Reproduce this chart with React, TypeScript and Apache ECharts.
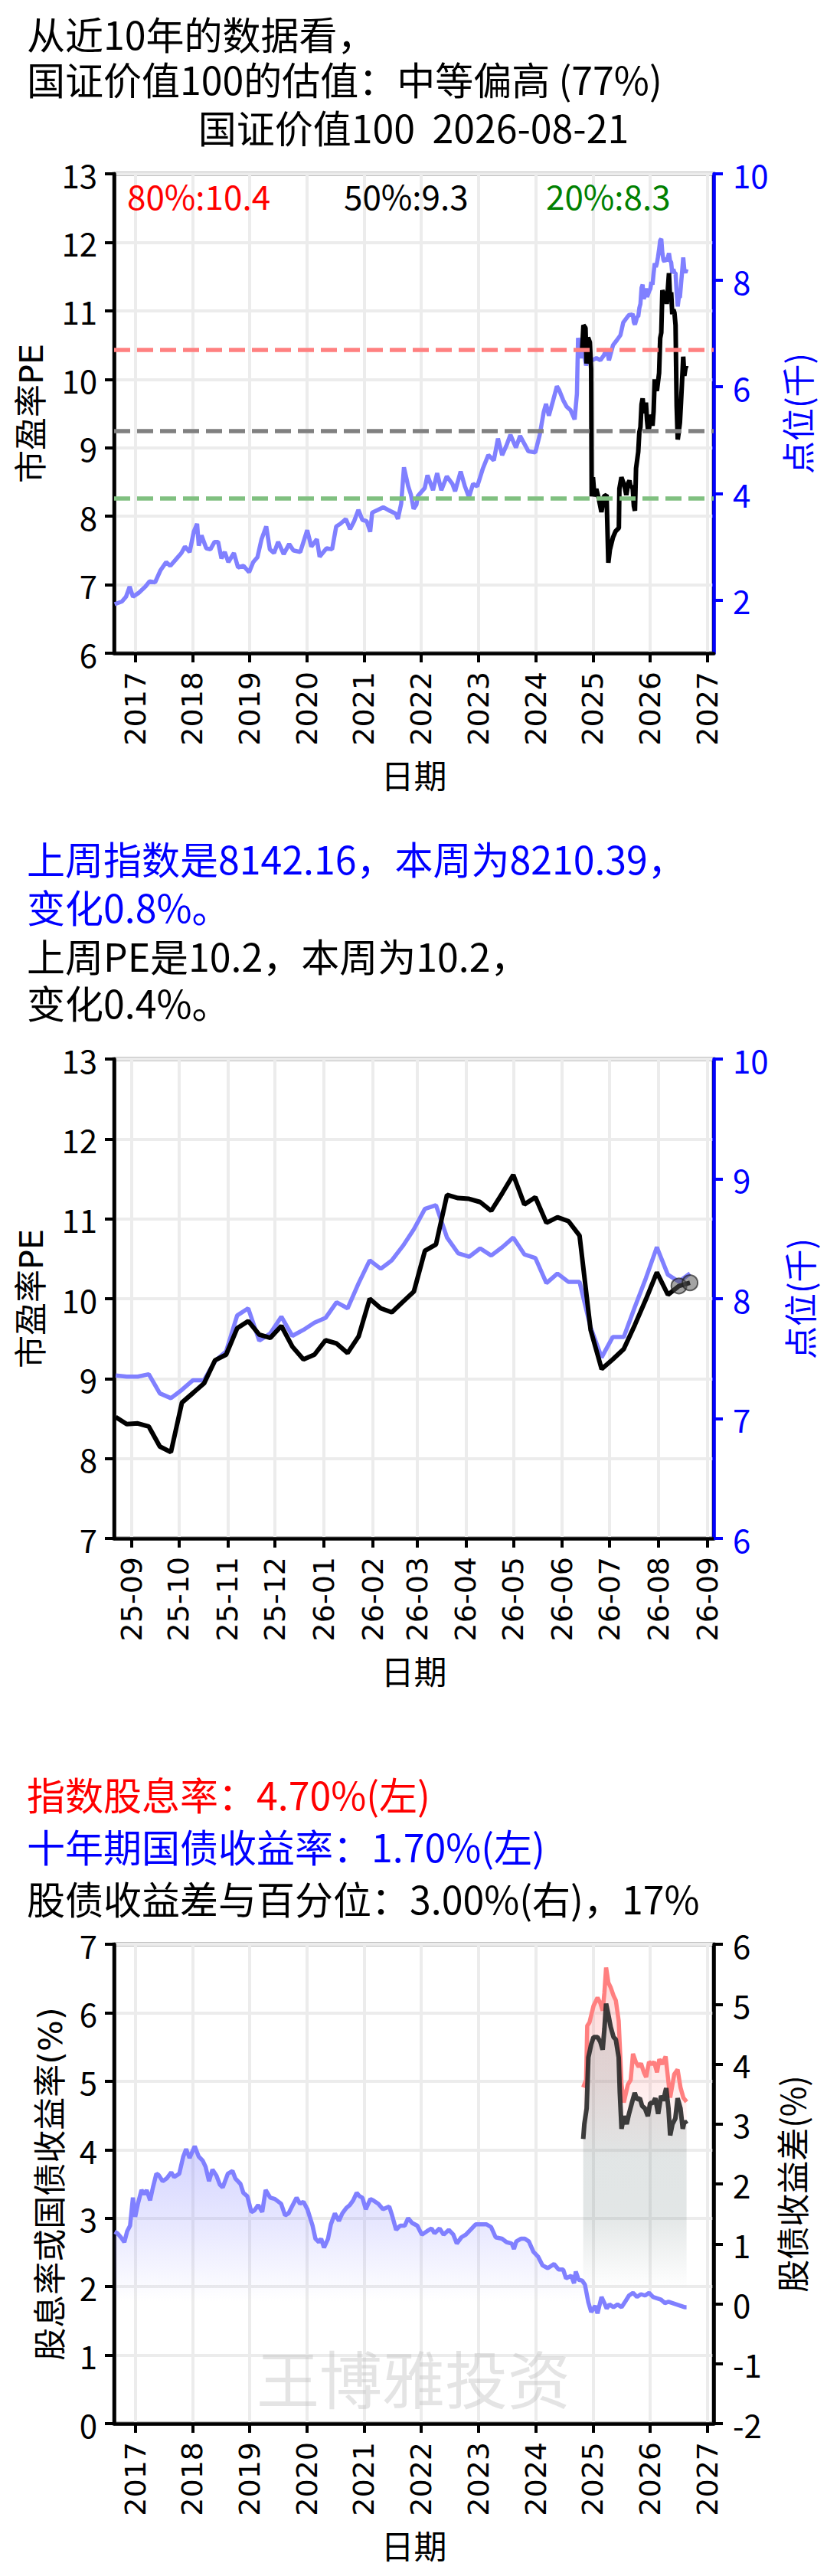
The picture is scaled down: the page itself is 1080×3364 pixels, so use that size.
import React, { useEffect, useRef } from "react";
import * as echarts from "echarts";

const CJK = "'Noto Sans CJK SC', 'Noto Sans', sans-serif";
const LATIN = "'DejaVu Sans', 'Noto Sans CJK SC', sans-serif";

// ---------------- Chart 1 : 10-year history (x in decimal years) ----------------
const X_YEAR_MIN = 2016.631;
const X_YEAR_MAX = 2027.11;
const YEAR_TICKS = [2017, 2018, 2019, 2020, 2021, 2022, 2023, 2024, 2025, 2026, 2027];

// index level (thousands of points) before the last year of weekly data
const INDEX_HIST_YEARS = [
  2016.640, 2016.768, 2016.840, 2016.903, 2016.961, 2017.058, 2017.178, 2017.251, 2017.348, 2017.444,
  2017.541, 2017.613, 2017.710, 2017.807, 2017.869, 2017.952, 2018.024, 2018.082, 2018.111, 2018.159,
  2018.242, 2018.314, 2018.387, 2018.449, 2018.507, 2018.565, 2018.628, 2018.725, 2018.797, 2018.894,
  2018.991, 2019.063, 2019.136, 2019.208, 2019.290, 2019.353, 2019.426, 2019.498, 2019.595, 2019.691,
  2019.764, 2019.885, 2020.006, 2020.078, 2020.175, 2020.223, 2020.344, 2020.441, 2020.513, 2020.586,
  2020.682, 2020.755, 2020.827, 2020.900, 2020.972, 2021.045, 2021.107, 2021.141, 2021.238, 2021.335,
  2021.455, 2021.552, 2021.591, 2021.649, 2021.697, 2021.770, 2021.818, 2021.866, 2021.915, 2021.939,
  2022.060, 2022.108, 2022.205, 2022.277, 2022.350, 2022.446, 2022.543, 2022.591, 2022.688, 2022.760,
  2022.833, 2022.905, 2022.978, 2023.074, 2023.171, 2023.268, 2023.340, 2023.413, 2023.485, 2023.558,
  2023.654, 2023.727, 2023.872, 2023.993, 2024.070, 2024.140, 2024.180, 2024.230, 2024.300, 2024.370,
  2024.410, 2024.480, 2024.540, 2024.610, 2024.680, 2024.720, 2024.740, 2024.790, 2024.830, 2024.880,
  2024.920, 2024.990, 2025.060, 2025.130, 2025.190, 2025.240, 2025.280, 2025.350, 2025.420, 2025.480,
  2025.530, 2025.600,
];
const INDEX_HIST_K = [
  1.92, 1.97, 2.06, 2.25, 2.06, 2.13, 2.25, 2.35, 2.33, 2.56,
  2.71, 2.64, 2.76, 2.88, 3.00, 2.90, 3.28, 3.43, 3.02, 3.21,
  2.97, 2.95, 3.09, 3.09, 2.78, 2.90, 2.71, 2.88, 2.61, 2.64,
  2.52, 2.71, 2.80, 3.14, 3.38, 2.95, 2.88, 3.09, 2.86, 3.05,
  2.93, 2.90, 3.31, 3.00, 3.14, 2.81, 2.97, 2.95, 3.38, 3.43,
  3.52, 3.33, 3.48, 3.69, 3.50, 3.48, 3.28, 3.64, 3.69, 3.74,
  3.67, 3.62, 3.52, 3.81, 4.49, 4.14, 3.98, 3.71, 3.79, 3.95,
  4.10, 4.34, 4.06, 4.38, 4.06, 4.32, 4.18, 4.04, 4.41, 4.14,
  3.93, 4.18, 4.13, 4.46, 4.72, 4.62, 5.03, 4.72, 4.89, 5.10,
  4.86, 5.08, 4.79, 4.77, 5.10, 5.53, 5.68, 5.46, 5.73, 6.01,
  5.94, 5.75, 5.63, 5.56, 5.39, 5.87, 6.92, 6.54, 6.73, 6.40,
  6.59, 6.50, 6.54, 6.50, 6.59, 6.71, 6.50, 6.78, 6.88, 6.97,
  7.21, 7.31,
];

// PE before the last year of weekly data
const PE_HIST_YEARS = [
  2024.812, 2024.834, 2024.870, 2024.888, 2024.915, 2024.946, 2024.969, 2024.978, 2025.000, 2025.027,
  2025.058, 2025.103, 2025.148, 2025.193, 2025.238, 2025.269, 2025.296, 2025.350, 2025.395, 2025.453,
  2025.462, 2025.498, 2025.552, 2025.583, 2025.619,
];
const PE_HIST = [
  10.45, 10.79, 10.75, 10.23, 10.61, 10.54, 10.15, 8.29, 8.57, 8.29,
  8.40, 8.25, 8.06, 8.29, 8.31, 7.32, 7.51, 7.69, 7.78, 7.83,
  8.40, 8.57, 8.44, 8.31, 8.49,
];

const PE_P80 = 10.43;
const PE_P50 = 9.25;
const PE_P20 = 8.26;

// ---------------- Chart 2 : last year, weekly ----------------
const WEEK_DATES = [
  "2025-08-22", "2025-08-29", "2025-09-05", "2025-09-12", "2025-09-19", "2025-09-26", "2025-10-03", "2025-10-10", "2025-10-17", "2025-10-24",
  "2025-10-31", "2025-11-07", "2025-11-14", "2025-11-21", "2025-11-28", "2025-12-05", "2025-12-12", "2025-12-19", "2025-12-26", "2026-01-02",
  "2026-01-09", "2026-01-16", "2026-01-23", "2026-01-30", "2026-02-06", "2026-02-13", "2026-02-20", "2026-02-27", "2026-03-06", "2026-03-13",
  "2026-03-20", "2026-03-27", "2026-04-03", "2026-04-10", "2026-04-17", "2026-04-24", "2026-05-01", "2026-05-08", "2026-05-15", "2026-05-22",
  "2026-05-29", "2026-06-05", "2026-06-12", "2026-06-19", "2026-06-26", "2026-07-03", "2026-07-10", "2026-07-17", "2026-07-24", "2026-07-31",
  "2026-08-07", "2026-08-14", "2026-08-21",
];
const WEEK_PE = [
  8.52, 8.43, 8.44, 8.40, 8.15, 8.08, 8.70, 8.82, 8.94, 9.23,
  9.30, 9.63, 9.72, 9.55, 9.51, 9.66, 9.40, 9.24, 9.30, 9.48,
  9.44, 9.32, 9.53, 10.00, 9.88, 9.83, 9.96, 10.09, 10.60, 10.68,
  11.30, 11.26, 11.25, 11.21, 11.10, 11.32, 11.55, 11.18, 11.27, 10.95,
  11.02, 10.97, 10.79, 9.61, 9.12, 9.24, 9.37, 9.67, 9.99, 10.33,
  10.05, 10.16, 10.20,
];
const WEEK_INDEX_K = [
  7.36, 7.35, 7.35, 7.37, 7.21, 7.17, 7.24, 7.32, 7.32, 7.48,
  7.56, 7.86, 7.92, 7.65, 7.71, 7.85, 7.69, 7.74, 7.80, 7.84,
  7.97, 7.92, 8.13, 8.32, 8.25, 8.32, 8.44, 8.58, 8.75, 8.78,
  8.51, 8.38, 8.35, 8.42, 8.36, 8.43, 8.51, 8.37, 8.34, 8.13,
  8.21, 8.14, 8.14, 7.76, 7.51, 7.68, 7.68, 7.93, 8.17, 8.43,
  8.20, 8.14216, 8.21039,
];
const MONTH_TICKS = [
  "2025-09-01", "2025-10-01", "2025-11-01", "2025-12-01", "2026-01-01", "2026-02-01", "2026-03-01",
  "2026-04-01", "2026-05-01", "2026-06-01", "2026-07-01", "2026-08-01", "2026-09-01",
];
const WEEK_X_MIN = "2025-08-21";
const WEEK_X_MAX = "2026-09-05";

// ---------------- Chart 3 : yields (x in decimal years) ----------------
const BOND_YEARS = [
  2016.640, 2016.690, 2016.750, 2016.810, 2016.860, 2016.910, 2016.960, 2017.000, 2017.050, 2017.110,
  2017.160, 2017.200, 2017.260, 2017.310, 2017.370, 2017.410, 2017.480, 2017.550, 2017.630, 2017.680,
  2017.770, 2017.840, 2017.890, 2017.950, 2018.040, 2018.110, 2018.180, 2018.230, 2018.290, 2018.350,
  2018.420, 2018.480, 2018.530, 2018.620, 2018.700, 2018.750, 2018.840, 2018.890, 2018.960, 2019.030,
  2019.080, 2019.150, 2019.220, 2019.280, 2019.360, 2019.440, 2019.550, 2019.620, 2019.680, 2019.740,
  2019.820, 2019.880, 2019.940, 2020.010, 2020.100, 2020.150, 2020.210, 2020.250, 2020.300, 2020.370,
  2020.420, 2020.490, 2020.560, 2020.620, 2020.690, 2020.750, 2020.810, 2020.870, 2020.920, 2020.970,
  2021.030, 2021.110, 2021.160, 2021.250, 2021.330, 2021.440, 2021.490, 2021.560, 2021.630, 2021.710,
  2021.770, 2021.840, 2021.930, 2022.010, 2022.100, 2022.180, 2022.230, 2022.320, 2022.390, 2022.480,
  2022.560, 2022.620, 2022.700, 2022.780, 2022.860, 2022.950, 2023.030, 2023.140, 2023.220, 2023.300,
  2023.410, 2023.490, 2023.580, 2023.620, 2023.660, 2023.740, 2023.810, 2023.880, 2023.960, 2024.040,
  2024.120, 2024.210, 2024.320, 2024.400, 2024.480, 2024.530, 2024.620, 2024.670, 2024.700, 2024.750,
  2024.810, 2024.860, 2024.920, 2024.970, 2025.040, 2025.080, 2025.150, 2025.200, 2025.240, 2025.290,
  2025.360, 2025.430, 2025.500, 2025.570, 2025.630, 2025.700, 2025.770, 2025.840, 2025.910, 2025.980,
  2026.050, 2026.120, 2026.190, 2026.260, 2026.320, 2026.390, 2026.460, 2026.530, 2026.600, 2026.636,
];
const BOND_YIELD = [
  2.80, 2.78, 2.72, 2.65, 2.81, 2.89, 3.30, 3.02, 3.22, 3.41,
  3.35, 3.41, 3.26, 3.45, 3.65, 3.63, 3.54, 3.58, 3.67, 3.60,
  3.65, 3.90, 4.01, 3.88, 4.05, 3.90, 3.84, 3.75, 3.54, 3.71,
  3.62, 3.49, 3.45, 3.65, 3.69, 3.58, 3.50, 3.37, 3.32, 3.09,
  3.11, 3.19, 3.09, 3.41, 3.30, 3.28, 3.21, 3.04, 3.07, 3.17,
  3.30, 3.21, 3.24, 3.13, 2.89, 2.70, 2.65, 2.70, 2.57, 2.70,
  2.91, 3.07, 2.96, 3.07, 3.15, 3.19, 3.26, 3.37, 3.32, 3.30,
  3.13, 3.28, 3.26, 3.21, 3.13, 3.17, 3.04, 2.83, 2.89, 2.89,
  3.00, 2.93, 2.89, 2.76, 2.81, 2.85, 2.78, 2.85, 2.76, 2.83,
  2.76, 2.63, 2.72, 2.76, 2.83, 2.91, 2.91, 2.91, 2.87, 2.72,
  2.70, 2.65, 2.63, 2.55, 2.66, 2.70, 2.70, 2.66, 2.51, 2.44,
  2.31, 2.27, 2.33, 2.25, 2.25, 2.12, 2.16, 2.05, 2.22, 2.10,
  2.09, 2.03, 1.77, 1.63, 1.72, 1.61, 1.85, 1.76, 1.68, 1.74,
  1.70, 1.74, 1.70, 1.79, 1.87, 1.91, 1.85, 1.89, 1.87, 1.91,
  1.85, 1.83, 1.81, 1.76, 1.78, 1.76, 1.74, 1.72, 1.70, 1.70,
];

const SPREAD_YEARS = [
  2024.830, 2024.850, 2024.890, 2024.920, 2024.970, 2025.010, 2025.080, 2025.130, 2025.170, 2025.200,
  2025.230, 2025.270, 2025.310, 2025.360, 2025.400, 2025.450, 2025.470, 2025.500, 2025.540, 2025.590,
  2025.630, 2025.680, 2025.730, 2025.770, 2025.820, 2025.860, 2025.910, 2025.960, 2026.000, 2026.050,
  2026.090, 2026.140, 2026.190, 2026.230, 2026.280, 2026.320, 2026.350, 2026.390, 2026.440, 2026.480,
  2026.530, 2026.570, 2026.600, 2026.636,
];
const SPREAD = [
  2.75, 3.00, 3.26, 4.11, 4.33, 4.45, 4.45, 4.37, 4.24, 4.58,
  5.01, 4.82, 4.62, 4.45, 4.41, 4.11, 3.52, 2.92, 3.13, 3.00,
  3.17, 3.35, 3.52, 3.41, 3.43, 3.30, 3.26, 3.13, 3.35, 3.35,
  3.43, 3.17, 3.47, 3.39, 3.60, 3.26, 2.81, 3.00, 3.09, 3.43,
  3.26, 2.92, 3.05, 3.00,
];

const DIV_YEARS = [
  2024.830, 2024.880, 2024.900, 2024.940, 2025.010, 2025.080, 2025.130, 2025.170, 2025.200, 2025.230,
  2025.270, 2025.310, 2025.360, 2025.400, 2025.450, 2025.500, 2025.540, 2025.610, 2025.660, 2025.700,
  2025.750, 2025.800, 2025.840, 2025.890, 2025.930, 2025.980, 2026.030, 2026.070, 2026.120, 2026.160,
  2026.210, 2026.270, 2026.310, 2026.350, 2026.420, 2026.480, 2026.530, 2026.580, 2026.636,
];
const DIV_YIELD = [
  4.91, 5.02, 5.81, 5.86, 6.10, 6.22, 6.14, 6.03, 6.29, 6.66,
  6.44, 6.37, 6.25, 6.18, 5.88, 4.95, 4.69, 4.95, 5.02, 5.40,
  5.28, 5.21, 5.26, 5.13, 5.06, 5.28, 5.25, 5.28, 5.13, 5.32,
  5.25, 5.36, 5.06, 4.76, 5.10, 5.17, 4.91, 4.76, 4.70,
];

// ---------------- helpers ----------------
function parts(s: string) {
  const [y, m, d] = s.split("-").map(Number);
  return { y, m, d };
}
function yearFrac(s: string): number {
  const { y, m, d } = parts(s);
  const t = Date.UTC(y, m - 1, d);
  const t0 = Date.UTC(y, 0, 1);
  const t1 = Date.UTC(y + 1, 0, 1);
  return y + (t - t0) / (t1 - t0);
}
function dayNum(s: string): number {
  const { y, m, d } = parts(s);
  return Date.UTC(y, m - 1, d) / 86400000;
}
function dayLabel(v: number): string {
  const dt = new Date(Math.round(v) * 86400000);
  const yy = String(dt.getUTCFullYear()).slice(2);
  const mm = String(dt.getUTCMonth() + 1).padStart(2, "0");
  return `${yy}-${mm}`;
}
const zip = (xs: number[], ys: number[]) => xs.map((x, i) => [x, ys[i]]);

const BLACK = "#000000";
const BLUE = "#0000ff";
const LINE_BLUE = "#8080ff";
const GRID_COLOR = "#ececec";
const BLUE_W = 5.5;
const BLACK_W = 6;

function buildOption() {
  const weekYears = WEEK_DATES.map(yearFrac);
  const weekDays = WEEK_DATES.map(dayNum);
  const idxAllX = INDEX_HIST_YEARS.concat(weekYears);
  const idxAllY = INDEX_HIST_K.concat(WEEK_INDEX_K);
  const peAllX = PE_HIST_YEARS.concat(weekYears);
  const peAllY = PE_HIST.concat(WEEK_PE);

  const GRID_L = 149;
  const GRID_W = 783;
  const GRID_H = 626;
  const tops = [227, 1383, 2539];

  const grids = tops.map((t) => ({
    left: GRID_L,
    top: t,
    width: GRID_W,
    height: GRID_H,
    show: true,
    borderColor: BLACK,
    borderWidth: 4.5,
    backgroundColor: "transparent",
    containLabel: false,
    outerBoundsMode: "none",
  }));

  const splitLine = { show: true, lineStyle: { color: GRID_COLOR, width: 4 } };
  const axisName = (color: string) => ({ fontSize: 43, fontFamily: CJK, color });

  const yearAxis = (g: number) => ({
    type: "value",
    gridIndex: g,
    min: X_YEAR_MIN,
    max: X_YEAR_MAX,
    axisLine: { show: true, onZero: false, lineStyle: { color: BLACK, width: 4.5 } },
    axisTick: { show: true, customValues: YEAR_TICKS, length: 12, lineStyle: { color: BLACK, width: 4 } },
    axisLabel: {
      show: true,
      customValues: YEAR_TICKS,
      rotate: 90,
      margin: 24,
      fontSize: 38,
      fontFamily: LATIN,
      color: BLACK,
      formatter: (v: number) => String(Math.round(v)),
    },
    splitLine,
    name: "日期",
    nameLocation: "middle",
    nameGap: 136,
    nameTextStyle: axisName(BLACK),
  });

  const monthDays = MONTH_TICKS.map(dayNum);
  const monthAxis = {
    type: "value",
    gridIndex: 1,
    min: dayNum(WEEK_X_MIN),
    max: dayNum(WEEK_X_MAX),
    axisLine: { show: true, onZero: false, lineStyle: { color: BLACK, width: 4.5 } },
    axisTick: { show: true, customValues: monthDays, length: 12, lineStyle: { color: BLACK, width: 4 } },
    axisLabel: {
      show: true,
      customValues: monthDays,
      rotate: 90,
      margin: 24,
      fontSize: 38,
      fontFamily: LATIN,
      color: BLACK,
      formatter: (v: number) => dayLabel(v),
    },
    splitLine,
    name: "日期",
    nameLocation: "middle",
    nameGap: 150,
    nameTextStyle: axisName(BLACK),
  };

  const leftAxis = (g: number, min: number, max: number, name: string, gap: number) => ({
    type: "value",
    gridIndex: g,
    position: "left",
    min,
    max,
    interval: 1,
    axisLine: { show: true, onZero: false, lineStyle: { color: BLACK, width: 4.5 } },
    axisTick: { show: true, length: 12, lineStyle: { color: BLACK, width: 4 } },
    axisLabel: { show: true, fontSize: 42, fontFamily: CJK, color: BLACK, margin: 22 },
    splitLine,
    name,
    nameLocation: "middle",
    nameGap: gap,
    nameTextStyle: { fontSize: 43, fontFamily: LATIN, color: BLACK },
  });

  const rightAxis = (
    g: number,
    min: number,
    max: number,
    color: string,
    name: string,
    gap: number,
    ticks?: number[]
  ) => ({
    type: "value",
    gridIndex: g,
    position: "right",
    min,
    max,
    ...(ticks ? {} : { interval: 1 }),
    axisLine: { show: true, onZero: false, lineStyle: { color, width: 4.5 } },
    axisTick: { show: true, length: 12, lineStyle: { color, width: 4 }, ...(ticks ? { customValues: ticks } : {}) },
    axisLabel: {
      show: true,
      fontSize: 42,
      fontFamily: CJK,
      color,
      margin: 25,
      ...(ticks ? { customValues: ticks } : {}),
    },
    splitLine: { show: false },
    name,
    nameLocation: "middle",
    nameGap: gap,
    nameTextStyle: { fontSize: 43, fontFamily: CJK, color },
  });

  const dash = (v: number, color: string) => ({
    yAxis: v,
    lineStyle: { color, type: [21, 9], width: 5.5 },
  });

  const txt = (text: string, x: number, y: number, color: string, size = 50, align = "left") => ({
    type: "text",
    x,
    y,
    z: 50,
    style: {
      text,
      fill: color,
      fontSize: size,
      lineHeight: size,
      fontFamily: CJK,
      align,
      textAlign: align,
      verticalAlign: "middle",
      textVerticalAlign: "middle",
    },
  });

  const grad = (stops: [number, string][]) => ({
    type: "linear",
    x: 0,
    y: 0,
    x2: 0,
    y2: 1,
    colorStops: stops.map(([offset, color]) => ({ offset, color })),
  });

  return {
    animation: false,
    backgroundColor: "#ffffff",
    grid: grids,
    xAxis: [yearAxis(0), monthAxis, yearAxis(2)],
    yAxis: [
      leftAxis(0, 6, 13, "市盈率PE", 87),
      rightAxis(0, 1, 10, BLUE, "点位(千)", 86, [2, 4, 6, 8, 10]),
      leftAxis(1, 7, 13, "市盈率PE", 87),
      rightAxis(1, 6, 10, BLUE, "点位(千)", 89),
      leftAxis(2, 0, 7, "股息率或国债收益率(%)", 62),
      rightAxis(2, -2, 6, BLACK, "股债收益差(%)", 79),
    ],
    series: [
      // chart 1
      {
        type: "line",
        xAxisIndex: 0,
        yAxisIndex: 1,
        data: zip(idxAllX, idxAllY),
        symbol: "none",
        lineStyle: { color: LINE_BLUE, width: BLUE_W },
        z: 3,
      },
      {
        type: "line",
        xAxisIndex: 0,
        yAxisIndex: 0,
        data: zip(peAllX, peAllY),
        symbol: "none",
        lineStyle: { color: BLACK, width: BLACK_W },
        z: 4,
        markLine: {
          silent: true,
          symbol: ["none", "none"],
          label: { show: false },
          data: [dash(PE_P80, "#ff8080"), dash(PE_P50, "#808080"), dash(PE_P20, "#80c080")],
        },
      },
      // chart 2
      {
        type: "line",
        xAxisIndex: 1,
        yAxisIndex: 3,
        data: zip(weekDays, WEEK_INDEX_K),
        symbol: "none",
        lineStyle: { color: LINE_BLUE, width: BLUE_W },
        z: 3,
      },
      {
        type: "line",
        xAxisIndex: 1,
        yAxisIndex: 2,
        data: zip(weekDays, WEEK_PE),
        symbol: "none",
        lineStyle: { color: BLACK, width: BLACK_W },
        z: 4,
      },
      {
        type: "scatter",
        xAxisIndex: 1,
        yAxisIndex: 2,
        data: zip(weekDays.slice(-2), WEEK_PE.slice(-2)),
        symbolSize: 20,
        itemStyle: { color: "rgba(80,80,80,0.65)", borderColor: "rgba(30,30,30,0.85)", borderWidth: 2 },
        z: 5,
      },
      // chart 3
      {
        type: "line",
        xAxisIndex: 2,
        yAxisIndex: 4,
        data: zip(BOND_YEARS, BOND_YIELD),
        symbol: "none",
        lineStyle: { color: LINE_BLUE, width: BLUE_W },
        areaStyle: {
          color: grad([
            [0, "rgba(128,128,255,0.48)"],
            [0.3, "rgba(128,128,255,0.25)"],
            [0.56, "rgba(128,128,255,0)"],
            [1, "rgba(128,128,255,0)"],
          ]),
        },
        z: 3,
      },
      {
        type: "line",
        xAxisIndex: 2,
        yAxisIndex: 4,
        data: zip(DIV_YEARS, DIV_YIELD),
        symbol: "none",
        lineStyle: { color: "#ff7f7f", width: BLUE_W },
        areaStyle: {
          color: grad([
            [0, "rgba(255,110,110,0.38)"],
            [0.25, "rgba(255,110,110,0.2)"],
            [0.42, "rgba(255,110,110,0)"],
            [1, "rgba(255,110,110,0)"],
          ]),
        },
        z: 3,
      },
      {
        type: "line",
        xAxisIndex: 2,
        yAxisIndex: 5,
        data: zip(SPREAD_YEARS, SPREAD),
        symbol: "none",
        lineStyle: { color: "rgba(40,40,40,0.9)", width: BLACK_W },
        areaStyle: {
          color: grad([
            [0, "rgba(108,128,128,0.3)"],
            [0.7, "rgba(108,128,128,0.28)"],
            [0.95, "rgba(108,128,128,0)"],
            [1, "rgba(108,128,128,0)"],
          ]),
        },
        z: 4,
      },
    ],
    graphic: [
      txt("从近10年的数据看，", 35, 43, BLACK),
      txt("国证价值100的估值：中等偏高 (77%)", 35, 102, BLACK),
      txt("国证价值100  2026-08-21", 540, 165, BLACK, 50, "center"),
      txt(`80%:${PE_P80.toFixed(1)}`, 166, 255, "#ff0000", 44),
      txt(`50%:${PE_P50.toFixed(1)}`, 449, 255, BLACK, 44),
      txt(`20%:${PE_P20.toFixed(1)}`, 713, 255, "#008000", 44),
      txt("上周指数是8142.16，本周为8210.39，", 35, 1120, BLUE),
      txt("变化0.8%。", 35, 1183, BLUE),
      txt("上周PE是10.2，本周为10.2，", 35, 1247, BLACK),
      txt("变化0.4%。", 35, 1308, BLACK),
      txt("指数股息率：4.70%(左)", 35, 2342, "#ff0000"),
      txt("十年期国债收益率：1.70%(左)", 35, 2410, BLUE),
      txt("股债收益差与百分位：3.00%(右)，17%", 35, 2478, BLACK),
      {
        type: "text",
        x: 540,
        y: 3103,
        z: 60,
        style: {
          text: "王博雅投资",
          fill: "rgba(190,190,190,0.42)",
          fontSize: 82,
          lineHeight: 82,
          fontFamily: CJK,
          align: "center",
          textAlign: "center",
          verticalAlign: "middle",
          textVerticalAlign: "middle",
        },
      },
    ],
  };
}

export default function App() {
  const ref = useRef<HTMLDivElement>(null);
  useEffect(() => {
    if (!ref.current) return;
    const chart = echarts.init(ref.current, null, { renderer: "svg" });
    chart.setOption(buildOption() as any);
    return () => chart.dispose();
  }, []);
  return (
    <div
      ref={ref}
      style={{ position: "absolute", left: 0, top: 0, width: 1080, height: 3364, background: "#ffffff" }}
    />
  );
}
